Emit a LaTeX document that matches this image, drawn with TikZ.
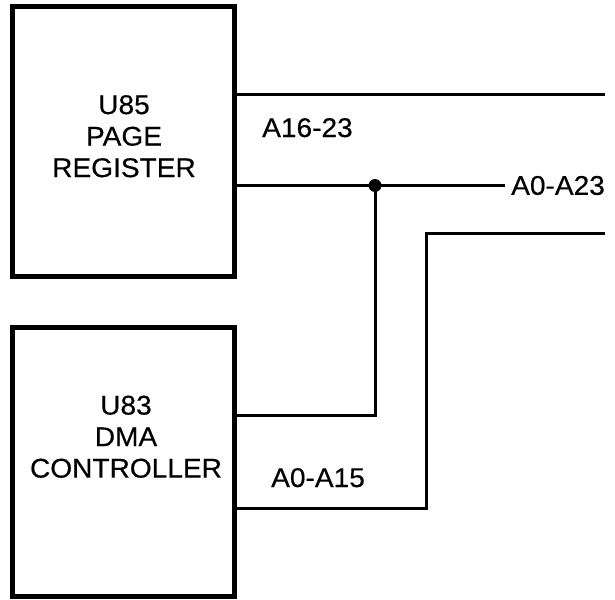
\documentclass[tikz,border=0pt]{standalone}
\usepackage{fontspec}
\setmainfont{Liberation Sans}[FakeStretch=1.04,FakeBold=0.4]
\begin{document}
\begin{tikzpicture}[x=1pt,y=-1pt,
  blockbox/.style={draw,line width=5pt,minimum width=222pt,inner sep=0pt},
  blocktext/.style={align=center,inner sep=0pt,anchor=north,font=\fontsize{27}{31.5}\selectfont},
  buslabel/.style={inner sep=0pt,font=\fontsize{27}{31.5}\selectfont},
  wire/.style={line width=3pt}]
\useasboundingbox (0,0) rectangle (615,599);
\node[blockbox,minimum height=270pt] (u85) at (123.5,141.5) {};
\node[blockbox,minimum height=269pt] (u83) at (123.5,461.5) {};
\node[blocktext] (t85) at (124,95) {U85\\PAGE\\REGISTER};
\node[blocktext] (t83) at (126,395.5) {U83\\DMA\\CONTROLLER};
\node[buslabel,anchor=base west] (l1623) at (262,137) {A16-23};
\node[buslabel,anchor=base west] (l015) at (271,487) {A0-A15};
\node[buslabel,anchor=west,inner sep=6pt] (l023) at (505,185.5) {A0-A23};
\coordinate (e1) at (605,95);
\coordinate (e3) at (605,233);
\coordinate (jn) at (375,185.5);
\coordinate (k1) at (375,415);
\coordinate (k2) at (426,233);
\coordinate (k3) at (426,508);
\draw[wire] (u85.east |- e1) -- (e1);
\draw[wire] (u85.east |- jn) -- (jn) -- (l023.west);
\draw[wire] (jn) -- (k1) -- (u83.east |- k1);
\draw[wire] (e3) -- (k2) -- (k3) -- (u83.east |- k3);
\fill (jn) circle (6.5pt);
\end{tikzpicture}
\end{document}
